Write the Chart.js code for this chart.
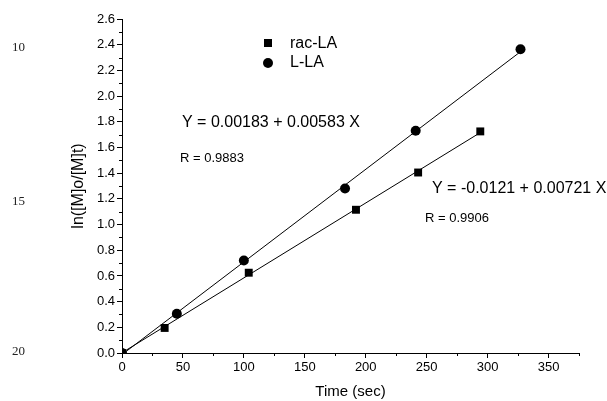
<!DOCTYPE html>
<html>
<head>
<meta charset="utf-8">
<script src="https://cdn.jsdelivr.net/npm/chart.js@4.4.1/dist/chart.umd.min.js"></script>
<style>
  html, body { margin: 0; padding: 0; background: #fff; }
  #wrap { width: 607px; height: 401px; }
</style>
</head>
<body>
<div id="wrap"><canvas id="kinetics"></canvas></div>
<script>
// Meetpunten: tijd (s) en ln([M]o/[M]t)
const racTime = [0, 35, 104, 192, 243, 294];
const racLn   = [0, 0.195, 0.625, 1.115, 1.405, 1.725];
const lTime   = [0, 45, 100, 183, 241, 327];
const lLn     = [0, 0.305, 0.72, 1.28, 1.73, 2.365];

// Lineaire fits (intercept, helling) zoals in de tekst op de grafiek
const racFit = [0.00183, 0.00583];
const lFit   = [-0.0121, 0.00721];
const racFitText = ['Y = 0.00183 + 0.00583 X', 'R = 0.9883'];
const lFitText   = ['Y = -0.0121 + 0.00721 X', 'R = 0.9906'];

const seriesNames = ['rac-LA', 'L-LA'];
const lineNumbers = ['10', '15', '20'];

const xTicks = { min: 0, max: 375, major: 50, minor: 25 };
const yTicks = { min: 0, max: 2.6, major: 0.2, minor: 0.1 };

const sansFont = 'Arial, "Liberation Sans", sans-serif';

function toPoints(xs, ys) {
    return xs.map((x, i) => ({ x: x, y: ys[i] }));
}

function fitLine(coef, xEnd) {
    return [0, xEnd].map(x => ({ x: x, y: coef[0] + coef[1] * x }));
}

// Kleine tussenstreepjes, legenda en losse tekst
const extrasPlugin = {
    id: 'extras',
    afterDraw(chart) {
        const ctx = chart.ctx;
        const xs = chart.scales.x;
        const ys = chart.scales.y;
        ctx.save();
        ctx.strokeStyle = '#000';
        ctx.lineWidth = 1;
        ctx.beginPath();
        for (let v = yTicks.minor; v < yTicks.max + 1e-6; v += yTicks.major) {
            const py = Math.round(ys.getPixelForValue(v)) + 0.5;
            ctx.moveTo(xs.left - 3, py);
            ctx.lineTo(xs.left, py);
        }
        for (let v = xTicks.minor; v <= xTicks.max + 1e-6; v += xTicks.major) {
            const px = Math.round(xs.getPixelForValue(v)) + 0.5;
            ctx.moveTo(px, ys.bottom);
            ctx.lineTo(px, ys.bottom + 3);
        }
        ctx.stroke();

        // legenda
        ctx.fillStyle = '#000';
        ctx.fillRect(264, 39, 8, 8);
        ctx.beginPath();
        ctx.arc(268, 63, 5, 0, Math.PI * 2);
        ctx.fill();
        ctx.font = '16px ' + sansFont;
        ctx.textBaseline = 'middle';
        ctx.textAlign = 'left';
        ctx.fillText(seriesNames[0], 290, 44);
        ctx.fillText(seriesNames[1], 290, 63);

        // fitvergelijkingen
        ctx.fillText(racFitText[0], 182, 123);
        ctx.fillText(lFitText[0], 432, 189);
        ctx.font = '13px ' + sansFont;
        ctx.fillText(racFitText[1], 180, 158);
        ctx.fillText(lFitText[1], 425, 218);

        // regelnummers in de kantlijn
        ctx.font = '13px "Liberation Serif", "Times New Roman", serif';
        ctx.fillStyle = '#222';
        ctx.fillText(lineNumbers[0], 12, 48);
        ctx.fillText(lineNumbers[1], 12, 202);
        ctx.fillText(lineNumbers[2], 12, 352);
        ctx.restore();
    }
};

const ctx = document.getElementById('kinetics').getContext('2d');
new Chart(ctx, {
    type: 'scatter',
    data: {
        datasets: [
            {
                label: seriesNames[0],
                data: toPoints(racTime, racLn),
                pointStyle: 'rect',
                pointRadius: 5.6,
                backgroundColor: '#000',
                borderColor: '#000',
                borderWidth: 0
            },
            {
                label: seriesNames[1],
                data: toPoints(lTime, lLn),
                pointStyle: 'circle',
                pointRadius: 5,
                backgroundColor: '#000',
                borderColor: '#000',
                borderWidth: 0
            },
            {
                label: 'fit rac',
                data: fitLine(racFit, racTime[racTime.length - 1]),
                showLine: true,
                pointRadius: 0,
                borderColor: '#000',
                borderWidth: 1
            },
            {
                label: 'fit L',
                data: fitLine(lFit, lTime[lTime.length - 1]),
                showLine: true,
                pointRadius: 0,
                borderColor: '#000',
                borderWidth: 1
            }
        ]
    },
    options: {
        responsive: true,
        maintainAspectRatio: false,
        animation: false,
        layout: { padding: { left: 0, top: 19, right: 28, bottom: 0 } },
        plugins: {
            legend: { display: false },
            tooltip: { enabled: false }
        },
        scales: {
            x: {
                type: 'linear',
                min: xTicks.min,
                max: xTicks.max,
                afterFit(scale) { scale.height = 48; },
                border: { color: '#000', width: 1 },
                grid: { drawOnChartArea: false, color: '#000', tickLength: 5 },
                ticks: {
                    stepSize: xTicks.major,
                    includeBounds: false,
                    padding: 2,
                    color: '#000',
                    font: { family: sansFont, size: 13 }
                },
                title: {
                    display: true,
                    text: 'Time (sec)',
                    color: '#000',
                    padding: { top: 0, bottom: 0 },
                    font: { family: sansFont, size: 15 }
                }
            },
            y: {
                type: 'linear',
                min: yTicks.min,
                max: yTicks.max,
                afterFit(scale) { scale.width = 122; },
                border: { color: '#000', width: 1 },
                grid: { drawOnChartArea: false, color: '#000', tickLength: 5 },
                ticks: {
                    stepSize: yTicks.major,
                    includeBounds: false,
                    padding: 2,
                    color: '#000',
                    font: { family: sansFont, size: 13 },
                    callback: v => v.toFixed(1)
                },
                title: {
                    display: true,
                    text: 'ln([M]o/[M]t)',
                    color: '#000',
                    padding: { top: 69, bottom: 0 },
                    font: { family: sansFont, size: 16 }
                }
            }
        }
    },
    plugins: [extrasPlugin]
});
</script>
</body>
</html>
